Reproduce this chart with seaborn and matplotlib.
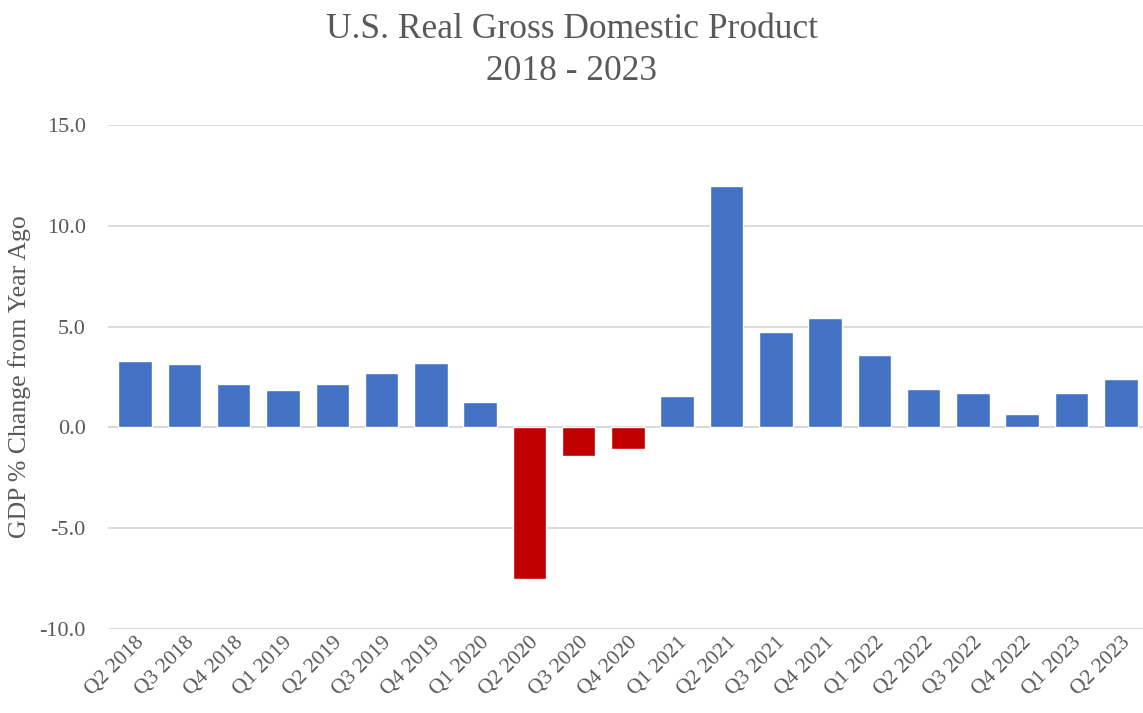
import matplotlib
matplotlib.use("Agg")
import matplotlib.pyplot as plt
import seaborn as sns
import pandas as pd

quarters = ["Q2 2018", "Q3 2018", "Q4 2018", "Q1 2019", "Q2 2019", "Q3 2019", "Q4 2019",
            "Q1 2020", "Q2 2020", "Q3 2020", "Q4 2020", "Q1 2021", "Q2 2021", "Q3 2021",
            "Q4 2021", "Q1 2022", "Q2 2022", "Q3 2022", "Q4 2022", "Q1 2023", "Q2 2023"]
gdp_change = [3.31, 3.15, 2.14, 1.86, 2.16, 2.69, 3.20, 1.24, -7.52, -1.43, -1.09, 1.58,
              11.96, 4.74, 5.43, 3.58, 1.88, 1.73, 0.66, 1.73, 2.39]
yticks = [-10.0, -5.0, 0.0, 5.0, 10.0, 15.0]

sns.set_theme(style="white")
plt.rcParams['font.family'] = ['Liberation Serif', 'DejaVu Serif']

BLUE = "#4472C4"
RED = "#C00000"
GRAY_TXT = "#595959"
GRID = "#d9d9d9"

df = pd.DataFrame({"quarter": quarters, "value": gdp_change})
colors = [RED if v < 0 else BLUE for v in gdp_change]

fig = plt.figure(figsize=(11.43, 7.13), dpi=100)
ax = fig.add_axes([0.0945, 0.1178, 0.9055, 0.7069])

sns.barplot(data=df, x="quarter", y="value", hue="quarter", palette=colors,
            legend=False, width=0.68, saturation=1, ax=ax, zorder=3)

ax.set_ylim(-10, 15)
ax.set_xlim(-0.55, 20.45)
ax.set_yticks(yticks)
ax.set_yticklabels([f"{t:.1f}" for t in yticks], fontsize=16, color=GRAY_TXT)
ax.tick_params(axis='y', length=0, pad=16)
ax.tick_params(axis='x', length=0, pad=3)
for lbl in ax.get_xticklabels():
    lbl.set_rotation(45)
    lbl.set_ha('right')
    lbl.set_rotation_mode('anchor')
    lbl.set_fontsize(15.5)
    lbl.set_color(GRAY_TXT)

ax.yaxis.grid(True, color=GRID, linewidth=1.3, zorder=0)
ax.axhline(0, color=GRID, linewidth=1.5, zorder=2)
for s in ax.spines.values():
    s.set_visible(False)

ax.set_xlabel("")
ax.set_ylabel("GDP % Change from Year Ago", fontsize=18.5, color=GRAY_TXT, labelpad=6)

fig.text(0.5, 0.958, "U.S. Real Gross Domestic Product", ha='center', va='center',
         fontsize=25.5, color=GRAY_TXT)
fig.text(0.5, 0.9, "2018 - 2023", ha='center', va='center', fontsize=25.5, color=GRAY_TXT)

fig.savefig("out.png", dpi=100)
